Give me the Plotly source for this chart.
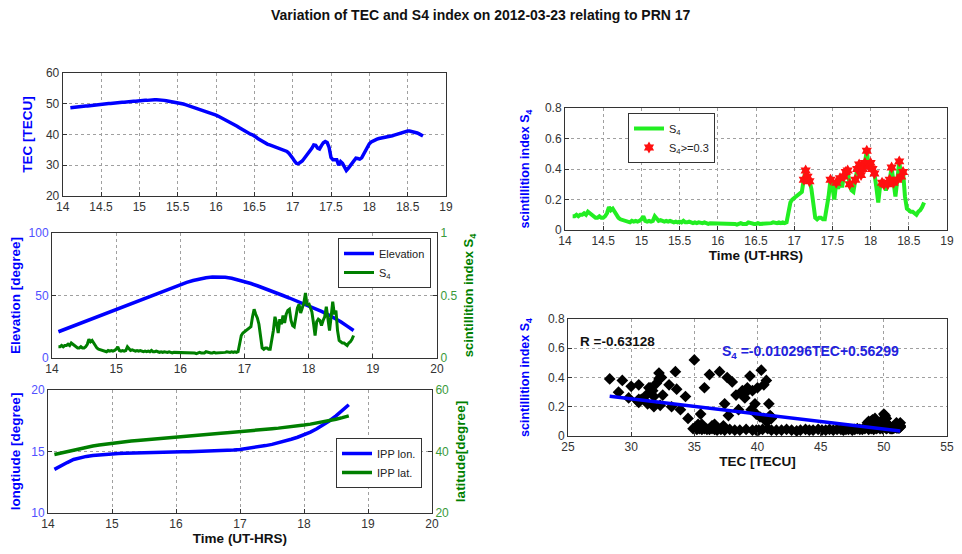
import numpy as np
import plotly.graph_objects as go

# ---------------- data ----------------
TITLE = "Variation of TEC and S4 index on 2012-03-23 relating to PRN 17"

# fine time grid (UT hours) shared by TEC and S4
TIME_H = np.round(np.arange(14.100, 18.7001, 0.025), 3)

TEC = [
    48.7, 48.8, 48.8, 48.9, 49.0, 49.0, 49.1, 49.2, 49.3, 49.3, 49.4, 49.5, 49.5, 49.6, 49.7, 49.7,
    49.8, 49.9, 49.9, 50.0, 50.1, 50.1, 50.2, 50.2, 50.3, 50.4, 50.4, 50.5, 50.5, 50.6, 50.6, 50.7, 50.7, 50.8, 50.8, 50.9,
    50.9, 51.0, 51.0, 51.1, 51.1, 51.2, 51.2, 51.3, 51.3, 51.3, 51.3, 51.2, 51.2, 51.1, 51.0, 50.9, 50.8, 50.7, 50.6, 50.5,
    50.3, 50.2, 50.0, 49.9, 49.7, 49.5, 49.4, 49.2, 49.0, 48.8, 48.5, 48.3, 48.1, 47.9, 47.7, 47.5, 47.2, 47.0, 46.8, 46.6,
    46.3, 46.0, 45.7, 45.4, 45.1, 44.8, 44.4, 44.1, 43.8, 43.4, 43.1, 42.7, 42.3, 41.9, 41.5, 41.1, 40.8, 40.4, 40.1, 39.9,
    39.6, 39.1, 38.6, 38.2, 37.8, 37.4, 37.1, 36.8, 36.6, 36.4, 36.2, 36.0, 35.8, 35.6, 35.4, 35.2, 34.9, 34.5, 33.9, 33.2,
    32.3, 31.3, 30.6, 30.5, 30.8, 31.4, 32.2, 33.0, 33.6, 34.3, 35.5, 36.6, 36.5, 35.6, 35.3, 36.4, 37.3, 37.7, 37.4, 35.8,
    32.5, 31.8, 31.7, 31.8, 30.0, 31.2, 30.6, 29.3, 28.3, 29.0, 29.8, 30.6, 31.5, 32.3, 32.2, 32.0, 32.4, 33.5, 35.0, 36.2,
    37.0, 37.6, 38.0, 38.3, 38.5, 38.7, 38.8, 38.9, 39.0, 39.1, 39.2, 39.4, 39.6, 39.8, 40.0, 40.3, 40.5, 40.7, 40.9, 41.0,
    41.1, 41.1, 41.0, 40.9, 40.7, 40.5, 40.2, 39.9, 39.5,
]

S4 = [
    0.09, 0.09, 0.10, 0.09, 0.10, 0.10, 0.11, 0.10, 0.12, 0.11, 0.10, 0.09, 0.08, 0.08, 0.09, 0.08,
    0.08, 0.09, 0.11, 0.15, 0.13, 0.14, 0.12, 0.09, 0.08, 0.07, 0.065, 0.06, 0.055, 0.055, 0.05, 0.06, 0.055, 0.06, 0.055, 0.06,
    0.07, 0.09, 0.06, 0.055, 0.06, 0.055, 0.06, 0.09, 0.07, 0.06, 0.065, 0.06, 0.055, 0.06, 0.055, 0.06, 0.055, 0.05, 0.055, 0.05,
    0.055, 0.05, 0.06, 0.05, 0.05, 0.055, 0.05, 0.045, 0.05, 0.045, 0.05, 0.045, 0.045, 0.05, 0.045, 0.04, 0.045, 0.045, 0.04, 0.045,
    0.045, 0.04, 0.045, 0.04, 0.04, 0.045, 0.04, 0.04, 0.045, 0.04, 0.035, 0.04, 0.045, 0.04, 0.04, 0.04, 0.05, 0.045, 0.04, 0.04,
    0.04, 0.045, 0.04, 0.04, 0.045, 0.04, 0.045, 0.04, 0.045, 0.05, 0.045, 0.045, 0.05, 0.045, 0.05, 0.045, 0.05, 0.12, 0.18, 0.20,
    0.21, 0.22, 0.23, 0.24, 0.25, 0.33, 0.39, 0.35, 0.32, 0.27, 0.15, 0.08, 0.07, 0.08, 0.08, 0.07, 0.07, 0.14, 0.22, 0.33,
    0.28, 0.20, 0.31, 0.27, 0.34, 0.28, 0.35, 0.38, 0.39, 0.30, 0.26, 0.25, 0.33, 0.40, 0.43, 0.36, 0.40, 0.44, 0.52, 0.42,
    0.44, 0.40, 0.37, 0.28, 0.18, 0.29, 0.31, 0.30, 0.26, 0.30, 0.33, 0.41, 0.31, 0.22, 0.33, 0.45, 0.35, 0.38, 0.22, 0.14,
    0.13, 0.12, 0.12, 0.11, 0.10, 0.12, 0.13, 0.15, 0.18,
]

# coarse time grid for the smooth geometry curves
TIME_C = np.round(np.arange(14.1, 18.7001, 0.1), 1)

ELEVATION = [
    21, 23, 25, 27, 29, 31, 33, 35, 37, 39, 41, 43, 45, 47, 49, 51, 53, 55, 57, 59,
    60.5, 62, 63.2, 64.2, 64.8, 65, 64.6, 63.8, 62.6, 61.2, 59.6, 57.8, 56, 54, 52, 50, 48, 46, 44, 42,
    39.7, 37.3, 34.8, 32, 29, 25.5, 22,
]

IPP_LON = [
    13.55, 13.85, 14.1, 14.35, 14.5, 14.6, 14.68, 14.73, 14.77, 14.8, 14.83, 14.85, 14.87, 14.89, 14.9,
    14.92, 14.93, 14.94, 14.95, 14.96, 14.97, 14.98, 14.99, 15.0, 15.01, 15.03, 15.05, 15.08, 15.12, 15.17,
    15.23, 15.3, 15.38, 15.48, 15.58, 15.7, 15.84, 16.0, 16.16, 16.35, 16.58, 16.85, 17.15, 17.5, 17.9, 18.35, 18.8,
]

IPP_LAT = [
    39.0, 39.5, 40.0, 40.5, 41.0, 41.4, 41.8, 42.1, 42.4, 42.7, 42.95, 43.2, 43.4, 43.6, 43.8,
    44.0, 44.2, 44.4, 44.6, 44.8, 44.95, 45.1, 45.3, 45.45, 45.6, 45.8, 45.95, 46.1, 46.25, 46.4,
    46.6, 46.8, 47.0, 47.2, 47.4, 47.6, 47.8, 48.05, 48.3, 48.6, 48.9, 49.25, 49.6, 50.0, 50.5, 51.0, 51.6,
]

S4_THRESHOLD = 0.3
R_VALUE = "-0.63128"
FIT_SLOPE = -0.010296
FIT_INTERCEPT = 0.56299
FIT_SLOPE_TXT = "-0.010296"
FIT_INTERCEPT_TXT = "0.56299"

# ---------------- derived ----------------
hi_t = [t for t, s in zip(TIME_H, S4) if s >= S4_THRESHOLD]
hi_s = [s for s in S4 if s >= S4_THRESHOLD]
fit_x = np.array([min(TEC), max(TEC)])
fit_y = FIT_SLOPE * fit_x + FIT_INTERCEPT

# ---------------- style ----------------
# the page body keeps an 8 px margin; size the figure so the page never scrolls
OFF = 8
W, H = 962 - OFF, 554 - 2 * OFF
FONT = "Liberation Sans, Arial, sans-serif"
BLUE = "#0000ff"
DGREEN = "#007f00"
LIME = "#22ee22"
AX = "#333333"
GRID = "#a0a0a0"


def px(xw):
    return (xw - OFF) / W


def py(yw):
    return (H - (yw - OFF)) / H


def xdom(a, b):
    return [px(a), px(b)]


def ydom(top, bottom):
    return [py(bottom), py(top)]


def axis(dom, rng, dtick, anchor, grid=True, tickcolor=AX, title=None, tcolor=AX,
         tsize=12, standoff=6, mirror=True, side=None, overlaying=None):
    d = dict(
        domain=dom, range=rng, anchor=anchor, showline=True, linecolor=AX, linewidth=1,
        mirror=mirror, ticks="inside", ticklen=4, tickcolor=AX, showgrid=grid,
        gridcolor=GRID, griddash="dot", gridwidth=1, zeroline=False, automargin=False,
        tickfont=dict(family=FONT, size=12, color=tickcolor), tick0=rng[0], dtick=dtick,
        ticklabeloverflow="allow",
    )
    if title:
        d["title"] = dict(text=title, font=dict(family=FONT, size=tsize, color=tcolor), standoff=standoff)
    if side:
        d["side"] = side
    if overlaying:
        d["overlaying"] = overlaying
        d.pop("domain")
    return d


fig = go.Figure()

# panel 1: TEC
fig.add_trace(go.Scatter(x=TIME_H, y=TEC, mode="lines", line=dict(color=BLUE, width=3.5),
                         xaxis="x", yaxis="y", showlegend=False))

# panel 2: elevation + S4
fig.add_trace(go.Scatter(x=TIME_C, y=ELEVATION, mode="lines", name="Elevation",
                         line=dict(color=BLUE, width=3.5), xaxis="x2", yaxis="y2", legend="legend"))
fig.add_trace(go.Scatter(x=TIME_H, y=S4, mode="lines", name="S<sub>4</sub>",
                         line=dict(color=DGREEN, width=3), xaxis="x2", yaxis="y3", legend="legend"))

# panel 3: IPP lon / lat
fig.add_trace(go.Scatter(x=TIME_C, y=IPP_LON, mode="lines", name="IPP lon.",
                         line=dict(color=BLUE, width=3.5), xaxis="x3", yaxis="y4", legend="legend2"))
fig.add_trace(go.Scatter(x=TIME_C, y=IPP_LAT, mode="lines", name="IPP lat.",
                         line=dict(color=DGREEN, width=3.5), xaxis="x3", yaxis="y5", legend="legend2"))

# panel 4: S4 with threshold markers
fig.add_trace(go.Scatter(x=TIME_H, y=S4, mode="lines", name="S<sub>4</sub>",
                         line=dict(color=LIME, width=4), xaxis="x4", yaxis="y6", legend="legend3"))
fig.add_trace(go.Scatter(x=hi_t, y=hi_s, mode="markers", name="S<sub>4</sub>>=0.3",
                         marker=dict(color="#ff1010", symbol="hexagram", size=9, line=dict(width=0)),
                         xaxis="x4", yaxis="y6", legend="legend3"))

# panel 5: scatter S4 vs TEC
fig.add_trace(go.Scatter(x=TEC, y=S4, mode="markers",
                         marker=dict(color="black", symbol="diamond", size=9, line=dict(width=0)),
                         xaxis="x5", yaxis="y7", showlegend=False))
fig.add_trace(go.Scatter(x=fit_x, y=fit_y, mode="lines", line=dict(color=BLUE, width=3.5),
                         xaxis="x5", yaxis="y7", showlegend=False))

legend_common = dict(bgcolor="white", bordercolor=AX, borderwidth=1,
                     font=dict(family=FONT, size=11, color="#222"), tracegroupgap=0,
                     itemwidth=30)

fig.update_layout(
    width=W, height=H, autosize=False,
    margin=dict(l=0, r=0, t=0, b=0),
    paper_bgcolor="white", plot_bgcolor="white",
    font=dict(family=FONT, size=12, color=AX),
    # panel 1
    xaxis=axis(xdom(62.7, 446), [14, 19], 0.5, "y"),
    yaxis=axis(ydom(73, 196), [20, 60], 10, "x", title="<b>TEC [TECU]</b>", tcolor=BLUE,
               tsize=13.5, standoff=10),
    # panel 2
    xaxis2=axis(xdom(52, 437), [14, 20], 1, "y2"),
    yaxis2=axis(ydom(233, 358), [0, 100], 50, "x2", tickcolor="#5050ff",
                title="<b>Elevation [degree]</b>", tcolor=BLUE, tsize=13.5, standoff=10, mirror=False),
    yaxis3=axis(None, [0, 1], 0.5, "x2", grid=False, tickcolor="#3a9a3a", side="right",
                overlaying="y2", title="<b>scintillition index S<sub>4</sub></b>", tcolor=DGREEN,
                tsize=13, standoff=7, mirror=False),
    # panel 3
    xaxis3=axis(xdom(48, 432), [14, 20], 1, "y4", title="<b>Time (UT-HRS)</b>", tcolor="#111",
                tsize=13.5, standoff=1),
    yaxis4=axis(ydom(390, 513), [10, 20], 5, "x3", tickcolor="#5050ff",
                title="<b>longtiude [degree]</b>", tcolor=BLUE, tsize=13.5, standoff=34, mirror=False),
    yaxis5=axis(None, [20, 60], 20, "x3", grid=False, tickcolor="#3a9a3a", side="right",
                overlaying="y4", title="<b>latitude[degree]</b>", tcolor=DGREEN,
                tsize=13.5, standoff=7, mirror=False),
    # panel 4
    xaxis4=axis(xdom(565, 947), [14, 19], 0.5, "y6", title="<b>Time (UT-HRS)</b>", tcolor="#111",
                tsize=13.5, standoff=1),
    yaxis6=axis(ydom(108, 230), [0, 0.8], 0.2, "x4", title="<b>scintillition index S<sub>4</sub></b>",
                tcolor=BLUE, tsize=12.5, standoff=12),
    # panel 5
    xaxis5=axis(xdom(568, 947), [25, 55], 5, "y7", title="<b>TEC [TECU]</b>", tcolor="#111",
                tsize=13.5, standoff=1),
    yaxis7=axis(ydom(319, 436), [0, 0.8], 0.2, "x5", title="<b>scintillition index S<sub>4</sub></b>",
                tcolor=BLUE, tsize=12.5, standoff=15),
    legend=dict(legend_common, x=px(431), y=py(238), xanchor="right", yanchor="top"),
    legend2=dict(legend_common, x=px(422), y=py(438), xanchor="right", yanchor="top"),
    legend3=dict(legend_common, x=px(628), y=py(113), xanchor="left", yanchor="top"),
    annotations=[
        dict(text="<b>" + TITLE + "</b>", xref="paper", yref="paper", x=px(481), y=py(15),
             showarrow=False, font=dict(family=FONT, size=14, color="#111"), xanchor="center",
             yanchor="middle"),
        dict(text="<b>R =" + R_VALUE + "</b>", xref="x5", yref="y7", x=25.8, y=0.645,
             showarrow=False, xanchor="left", yanchor="middle",
             font=dict(family=FONT, size=13.5, color="#111")),
        dict(text="<b>S<sub>4</sub> =" + FIT_SLOPE_TXT + "TEC+" + FIT_INTERCEPT_TXT + "</b>",
             xref="x5", yref="y7", x=44.2, y=0.574, showarrow=False, xanchor="center",
             yanchor="middle", font=dict(family=FONT, size=14, color="#2222dd")),
    ],
)

fig.write_html("out.html")
